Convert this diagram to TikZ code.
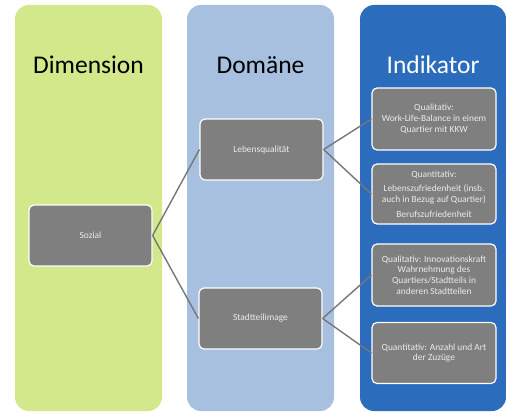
\documentclass[tikz,border=0pt]{standalone}
\usepackage{fontspec}
\setmainfont{Carlito}
\usepackage{xcolor}
\usetikzlibrary{positioning}
\definecolor{dimgreen}{HTML}{D2E88B}
\definecolor{domblue}{HTML}{A7C0E0}
\definecolor{indblue}{HTML}{2B6CBC}
\definecolor{boxgray}{HTML}{7F7F7F}
\definecolor{linkgray}{HTML}{767676}
\begin{document}
\begin{tikzpicture}[x=1pt,y=-1pt,
  col/.style={rounded corners=14pt,minimum width=147pt,minimum height=406pt,inner sep=0pt},
  head/.style={font=\fontsize{25.5}{30}\selectfont},
  item/.style={draw=white,line width=1.2pt,fill=boxgray,rounded corners=5pt,minimum width=123pt,minimum height=61pt,align=center,text=white!92!black,font=\fontsize{9.4}{10.8}\selectfont},
  link/.style={draw=linkgray,line width=1.4pt}]
 \useasboundingbox (0,0) rectangle (506,412);
 % columns
 \node[col,fill=dimgreen] (dimcol) at (88.5,208) {};
 \node[col,fill=domblue]  (domcol) at (260.5,208) {};
 \node[col,fill=indblue,minimum width=146pt] (indcol) at (433,208) {};
 \node[head] (dimhead) at (88.5,65) {Dimension};
 \node[head] (domhead) at (260.5,65) {Domäne};
 \node[head,text=white] (indhead) at (433,65) {Indikator};
 % boxes
 \node[item] (soz) at (90.5,235.5) {Sozial};
 \node[item] (leb) at (261.5,149.5) {Lebensqualität};
 \node[item] (stadt) at (260.5,318.5) {Stadtteilimage};
 \node[item,minimum width=124pt,minimum height=62pt] (ind1) at (434,119) {Qualitativ:\\Work-Life-Balance in einem\\Quartier mit KKW};
 \node[item,minimum width=124pt,minimum height=60pt] (ind2) at (434,194) {Quantitativ:\\[4pt]Lebenszufriedenheit (insb.\\auch in Bezug auf Quartier)\\[4pt]Berufszufriedenheit};
 \node[item,minimum width=124pt,minimum height=62pt] (ind3) at (434,275) {Qualitativ: Innovationskraft\\Wahrnehmung des\\Quartiers/Stadtteils in\\anderen Stadtteilen};
 \node[item,minimum width=124pt] (ind4) at (434,353) {Quantitativ: Anzahl und Art\\der Zuzüge};
 % links
 \draw[link] (soz.east)--(leb.west);
 \draw[link] (soz.east)--(stadt.west);
 \draw[link] (leb.east)--(ind1.west);
 \draw[link] (leb.east)--(ind2.west);
 \draw[link] (stadt.east)--(ind3.west);
 \draw[link] (stadt.east)--(ind4.west);
\end{tikzpicture}
\end{document}
